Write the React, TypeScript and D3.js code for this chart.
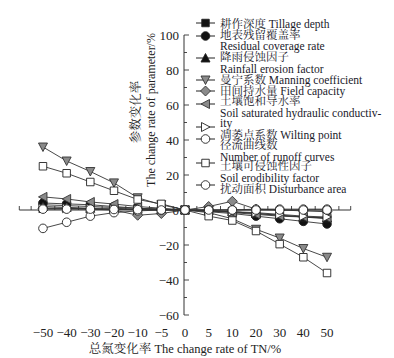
import React from "react";
import * as d3 from "d3";

const categories = [-50, -40, -30, -20, -10, -5, 0, 5, 10, 20, 30, 40, 50];
const tillageDepth = [3, 2.5, 2, 1.5, 1, 0.5, 0, -0.5, -1, -2, -3, -4, -5];
const residualCoverage = [4, 3.5, 3, 2, 1, 0.5, 0, -1, -2, -3.5, -5, -6.5, -8];
const rainfallErosion = [2, 1.5, 1, 1, 0.5, 0.3, 0, -0.3, -1, -2, -3, -4, -4.5];
const manning = [36, 28, 22, 15.5, 7, 3, 0, -1.5, -5, -11, -16, -22, -27];
const fieldCapacity = [1, 1, 0.5, 0, -3, -2, 0, 2, 5, 0.5, 0, -0.5, -1];
const soilSatHydraulic = [7.5, 6.3, 4.6, 3.4, 2, 1, 0, -0.5, -1.5, -2.5, -3.5, -4, -4.5];
const wiltingPoint = [1, 1, 0.8, 0.5, 0.3, 0.2, 0, -0.5, -1, -1.5, -2.5, -3.5, -4];
const runoffCurves = [-10.5, -7, -3.5, -1.5, -0.5, 0, 0, 0, 0, 0.5, 0.5, 0.5, 0.5];
const soilErodibility = [25, 21, 16, 11, 6, 3.5, 0, -3.5, -6, -12, -19.5, -27, -36];
const disturbanceArea = [0.5, 0.5, 0.5, 0.3, 0.2, 0, 0, 0, 0, 0, 0, 0, 0];
const yTicks = [-60, -40, -20, 0, 20, 40, 60, 80, 100];

type Shape = "square" | "circle" | "up" | "down" | "diamond" | "left" | "right";
type Fill = "black" | "gray" | "open";

const series: { values: number[]; shape: Shape; fill: Fill }[] = [
  { values: tillageDepth, shape: "square", fill: "black" },
  { values: residualCoverage, shape: "circle", fill: "black" },
  { values: rainfallErosion, shape: "up", fill: "black" },
  { values: manning, shape: "down", fill: "gray" },
  { values: fieldCapacity, shape: "diamond", fill: "gray" },
  { values: soilSatHydraulic, shape: "left", fill: "gray" },
  { values: wiltingPoint, shape: "right", fill: "open" },
  { values: runoffCurves, shape: "circle", fill: "open" },
  { values: soilErodibility, shape: "square", fill: "open" },
  { values: disturbanceArea, shape: "circle", fill: "open" },
];

const legendRows: { text: string; y: number }[] = [
  { text: "耕作深度 Tillage depth", y: 24 },
  { text: "地表残留覆盖率", y: 34.5 },
  { text: "Residual coverage rate", y: 46 },
  { text: "降雨侵蚀因子", y: 57 },
  { text: "Rainfall erosion factor", y: 69 },
  { text: "曼宁系数 Manning coefficient", y: 80 },
  { text: "田间持水量 Field capacity", y: 91 },
  { text: "土壤饱和导水率", y: 101 },
  { text: "Soil saturated hydraulic conductiv-", y: 113 },
  { text: "ity", y: 123 },
  { text: "凋萎点系数 Wilting point", y: 135 },
  { text: "径流曲线数", y: 145 },
  { text: "Number of runoff curves", y: 157 },
  { text: "土壤可侵蚀性因子", y: 166 },
  { text: "Soil erodibility factor", y: 178 },
  { text: "扰动面积 Disturbance area", y: 189 },
];
const legendMarkerY = [23, 36, 58, 80, 91, 104, 127, 139, 163, 185];

const FONT = "'Liberation Serif', 'Noto Serif CJK SC', 'Noto Sans CJK SC', serif";

function markerPath(shape: Shape, s: number): string {
  const h = s / 2;
  switch (shape) {
    case "square":
      return `M${-h},${-h}H${h}V${h}H${-h}Z`;
    case "up":
      return `M0,${-h - 0.5}L${h + 0.5},${h}L${-h - 0.5},${h}Z`;
    case "down":
      return `M0,${h + 0.5}L${h + 0.5},${-h}L${-h - 0.5},${-h}Z`;
    case "left":
      return `M${-h - 0.5},0L${h},${-h - 0.5}L${h},${h + 0.5}Z`;
    case "right":
      return `M${h + 0.5},0L${-h},${-h - 0.5}L${-h},${h + 0.5}Z`;
    case "diamond":
      return `M0,${-h - 1}L${h + 1},0L0,${h + 1}L${-h - 1},0Z`;
    default:
      return "";
  }
}

function Marker({ x, y, shape, fill }: { x: number; y: number; shape: Shape; fill: Fill }) {
  const f = fill === "black" ? "#111" : fill === "gray" ? "#8a8a8a" : "#fff";
  const stroke = fill === "gray" ? "#333" : "#222";
  if (shape === "circle") {
    return <circle cx={x} cy={y} r={4.3} fill={f} stroke={stroke} strokeWidth={0.9} />;
  }
  return (
    <path
      d={markerPath(shape, shape === "square" ? 7.5 : 8)}
      transform={`translate(${x},${y})`}
      fill={f}
      stroke={stroke}
      strokeWidth={0.9}
    />
  );
}

export default function App() {
  const x = d3.scaleLinear().domain([-1, categories.length]).range([19.3, 350.7]);
  const y = d3.scaleLinear().domain([-60, 100]).range([315, 35]);
  const axisX = x(categories.indexOf(0)) - 1;
  const line = d3
    .line<number>()
    .x((_, i) => x(i))
    .y((d) => y(d));

  const minorY = d3.range(-60, 101, 10);
  const xTickPos = d3.range(-1, categories.length + 0.01, 0.5);

  return (
    <svg
      width={394}
      height={358}
      style={{ position: "absolute", left: 0, top: 0, background: "#fff" }}
      fontFamily={FONT}
    >
      {/* y axis */}
      <line x1={axisX} x2={axisX} y1={y(100)} y2={y(-60)} stroke="#333" strokeWidth={1} />
      {minorY.map((t) => (
        <line
          key={`ym${t}`}
          x1={axisX}
          x2={axisX + (t % 20 === 0 ? 5 : 3)}
          y1={y(t)}
          y2={y(t)}
          stroke="#333"
          strokeWidth={0.9}
        />
      ))}
      {yTicks.map((t) => (
        <text
          key={`yl${t}`}
          x={axisX - 5}
          y={y(t) + 4.5}
          textAnchor="end"
          fontSize={13}
          fill="#222"
        >
          {t < 0 ? `\u2212${-t}` : t}
        </text>
      ))}
      {/* x axis */}
      <line x1={x(-1)} x2={x(categories.length)} y1={y(0)} y2={y(0)} stroke="#333" strokeWidth={1} />
      {xTickPos.map((p) => (
        <line key={`xt${p}`} x1={x(p)} x2={x(p)} y1={y(0)} y2={y(0) - 4} stroke="#333" strokeWidth={0.9} />
      ))}
      {categories.map((c, i) => (
        <text key={`xl${c}`} x={x(i)} y={337} textAnchor="middle" fontSize={13} fill="#222">
          {c < 0 ? `\u2212${-c}` : c}
        </text>
      ))}
      {/* axis titles */}
      <text x={185} y={353} textAnchor="middle" fontSize={12.5} fill="#222">
        总氮变化率 The change rate of TN/%
      </text>
      <text
        transform={`translate(140,112) rotate(-90)`}
        textAnchor="middle"
        fontSize={12.5}
        fill="#222"
      >
        参数变化率
      </text>
      <text
        transform={`translate(155,110) rotate(-90)`}
        textAnchor="middle"
        fontSize={12}
        fill="#222"
      >
        The change rate of parameter/%
      </text>
      {/* series lines */}
      {series.map((s, k) => (
        <path key={`l${k}`} d={line(s.values) || ""} fill="none" stroke="#333" strokeWidth={0.9} />
      ))}
      {/* markers */}
      {series.map((s, k) =>
        s.values.map((v, i) => (
          <Marker key={`m${k}-${i}`} x={x(i)} y={y(v)} shape={s.shape} fill={s.fill} />
        ))
      )}
      {/* legend */}
      {series.map((s, k) => (
        <g key={`lg${k}`}>
          <line x1={196} x2={215} y1={legendMarkerY[k]} y2={legendMarkerY[k]} stroke="#222" strokeWidth={1} />
          <Marker x={205.5} y={legendMarkerY[k]} shape={s.shape} fill={s.fill} />
        </g>
      ))}
      {legendRows.map((r, i) => (
        <text key={`lt${i}`} x={220} y={r.y + 4} fontSize={11.5} fill="#1a1a2a">
          {r.text}
        </text>
      ))}
    </svg>
  );
}
